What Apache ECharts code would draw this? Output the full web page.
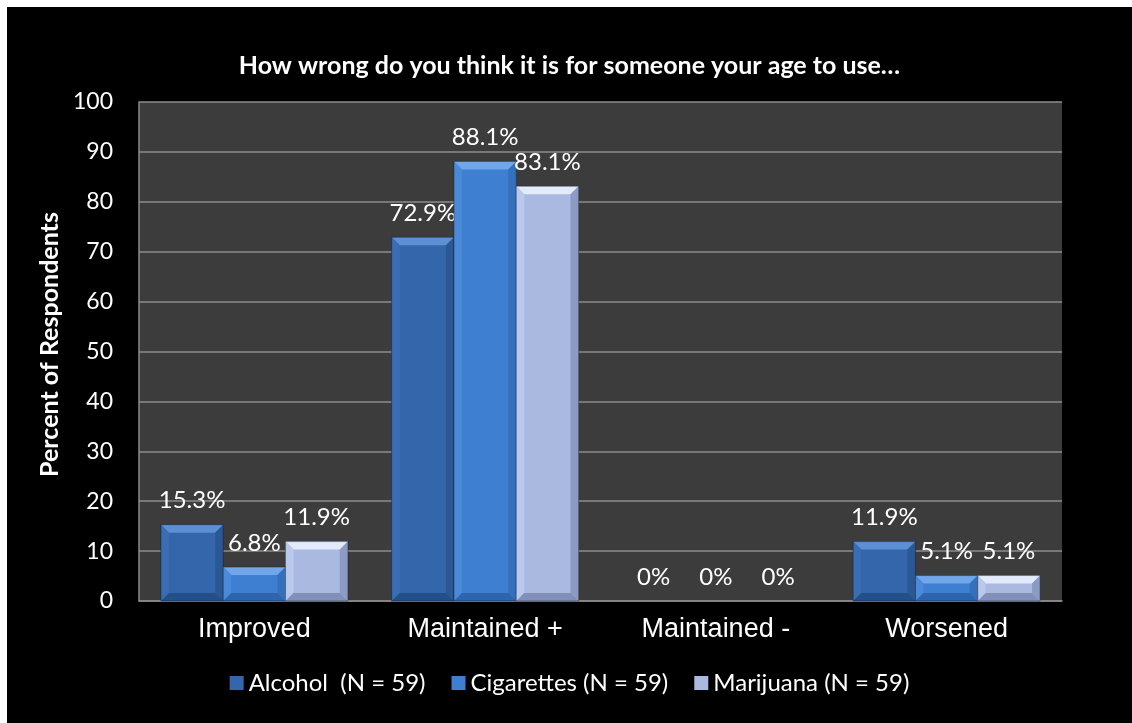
<!DOCTYPE html>
<html>
<head>
<meta charset="utf-8">
<script src="https://cdn.jsdelivr.net/npm/echarts@6/dist/echarts.min.js"></script>
<style>
  html, body { margin: 0; padding: 0; background: #ffffff; }
  #chart { position: absolute; left: 7px; top: 7px; width: 1125px; height: 716px; background: #000000; }
</style>
</head>
<body>
<div id="chart"></div>
<script>
// Survey outcome categories
const categories = ['Improved', 'Maintained +', 'Maintained -', 'Worsened'];

// Percent of respondents per substance
const alcohol = [15.3, 72.9, 0, 11.9];
const cigarettes = [6.8, 88.1, 0, 5.1];
const marijuana = [11.9, 83.1, 0, 5.1];

const seriesNames = ['Alcohol  (N = 59)', 'Cigarettes (N = 59)', 'Marijuana (N = 59)'];

// y-axis ticks
const yMin = 0, yMax = 100, yStep = 10;

const chart = echarts.init(document.getElementById('chart'));

// face colours of each bevelled bar: main, top, left, right, bottom
const palettes = [
  { main: '#3466ab', top: '#5d8fd4', left: '#3a6db4', right: '#2b5894', bottom: '#24508a' },
  { main: '#3f7fd1', top: '#72a6ea', left: '#4b8ad9', right: '#3470bc', bottom: '#2d65ad' },
  { main: '#a9b9e0', top: '#e2eafc', left: '#b9c8ec', right: '#8c9bc4', bottom: '#8190b8' }
];

const font = 'Lato, "Open Sans", sans-serif';
const groupFill = 0.81;   // share of a category taken by its three bars
const bevelSize = 8;

function fmt(v) {
  return v === 0 ? '0%' : v.toFixed(1) + '%';
}

function makeRenderer(idx) {
  const pal = palettes[idx];
  return function (params, api) {
    const cat = api.value(0);
    const val = api.value(1);
    const base = api.coord([cat, 0]);
    const top = api.coord([cat, val]);
    const catW = api.size([1, 0])[0];
    const bw = catW * groupFill / 3;
    const x0 = base[0] - 1.5 * bw + idx * bw;
    const x1 = x0 + bw;
    const y0 = top[1];
    const y1 = base[1];
    const h = y1 - y0;
    const b = Math.min(bevelSize, h / 2, bw / 2);
    const children = [];
    if (h > 0.5) {
      children.push(
        { type: 'rect', shape: { x: x0, y: y0, width: bw, height: h }, style: { fill: pal.main } },
        { type: 'polygon', shape: { points: [[x0, y0], [x1, y0], [x1 - b, y0 + b], [x0 + b, y0 + b]] }, style: { fill: pal.top } },
        { type: 'polygon', shape: { points: [[x0, y0], [x0 + b, y0 + b], [x0 + b, y1 - b], [x0, y1]] }, style: { fill: pal.left } },
        { type: 'polygon', shape: { points: [[x1, y0], [x1, y1], [x1 - b, y1 - b], [x1 - b, y0 + b]] }, style: { fill: pal.right } },
        { type: 'polygon', shape: { points: [[x0, y1], [x0 + b, y1 - b], [x1 - b, y1 - b], [x1, y1]] }, style: { fill: pal.bottom } },
        { type: 'rect', shape: { x: x0, y: y0, width: bw, height: h }, style: { fill: 'none', stroke: 'rgba(0,0,0,0.35)', lineWidth: 1 } }
      );
    }
    children.push({
      type: 'text',
      style: {
        text: fmt(val),
        x: (x0 + x1) / 2,
        y: y0 - 12,
        align: 'center',
        verticalAlign: 'bottom',
        fill: '#ffffff',
        font: '24px ' + font
      }
    });
    return { type: 'group', children: children };
  };
}

const data = [alcohol, cigarettes, marijuana];

chart.setOption({
  backgroundColor: '#000000',
  animation: false,
  title: {
    text: 'How wrong do you think it is for someone your age to use…',
    left: 'center',
    top: 41,
    textStyle: { color: '#ffffff', fontFamily: font, fontWeight: 'bold', fontSize: 25 }
  },
  legend: {
    bottom: 23,
    left: 'center',
    itemWidth: 14,
    itemHeight: 14,
    itemGap: 26,
    icon: 'rect',
    textStyle: { color: '#ffffff', fontFamily: font, fontSize: 24 },
    data: seriesNames.map((n, i) => ({ name: n, itemStyle: { color: palettes[i].main } }))
  },
  grid: { left: 132, top: 95, right: 70, bottom: 122, show: true, backgroundColor: '#3c3c3c', borderWidth: 0 },
  xAxis: {
    type: 'category',
    data: categories,
    axisLine: { show: true, lineStyle: { color: '#8a8a8a', width: 1.5 } },
    axisTick: { show: false },
    axisLabel: { color: '#ffffff', fontFamily: 'Liberation Sans, Arial, sans-serif', fontSize: 27, margin: 15 }
  },
  yAxis: {
    type: 'value',
    min: yMin, max: yMax, interval: yStep,
    name: 'Percent of Respondents',
    nameLocation: 'middle',
    nameGap: 62,
    nameTextStyle: { color: '#ffffff', fontFamily: font, fontWeight: 'bold', fontSize: 25, padding: [0, 0, 0, 14] },
    axisLine: { show: true, lineStyle: { color: '#8a8a8a', width: 1.5 } },
    axisTick: { show: false },
    axisLabel: { color: '#ffffff', fontFamily: font, fontSize: 23, margin: 26 },
    splitLine: { show: true, lineStyle: { color: '#8c8c8c', width: 1.5 } }
  },
  series: data.map((vals, i) => ({
    name: seriesNames[i],
    type: 'custom',
    renderItem: makeRenderer(i),
    itemStyle: { color: palettes[i].main },
    encode: { x: 0, y: 1 },
    data: vals.map((v, j) => [j, v]),
    z: 3
  }))
});
</script>
</body>
</html>
